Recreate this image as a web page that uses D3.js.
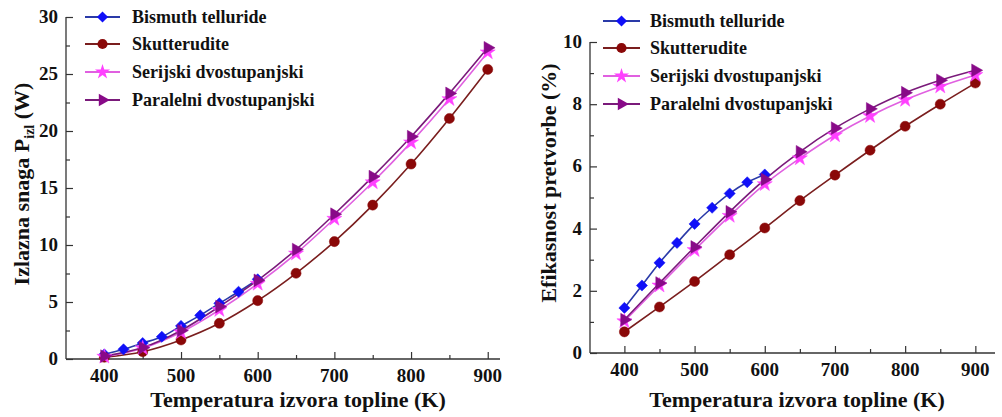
<!DOCTYPE html>
<html><head><meta charset="utf-8">
<script src="https://cdn.jsdelivr.net/npm/d3@7"></script>
<style>body{margin:0;background:#fff}svg{display:block}text{font-family:"Liberation Serif","Times New Roman",serif;font-weight:bold;fill:#111}</style>
</head><body><svg id="c" width="1002" height="417"></svg>
<script>
const seriesNames = ["Bismuth telluride","Skutterudite","Serijski dvostupanjski","Paralelni dvostupanjski"];
const xBi = [400,425,450,475,500,525,550,575,600];
const xFull = [400,450,500,550,600,650,700,750,800,850,900];
// Output power (W)
const powerBi = [0.4,0.85,1.4,1.95,2.9,3.83,4.88,5.9,6.99];
const powerSk = [0.15,0.64,1.67,3.13,5.12,7.52,10.3,13.5,17.1,21.1,25.4];
const powerSe = [0.2,0.95,2.35,4.3,6.6,9.25,12.3,15.5,19.0,22.8,26.9];
const powerPa = [0.25,1.0,2.5,4.6,6.9,9.6,12.7,16.0,19.5,23.3,27.3];
// Conversion efficiency (%)
const effBi = [1.45,2.17,2.9,3.54,4.15,4.67,5.13,5.49,5.74];
const effSk = [0.68,1.48,2.3,3.16,4.02,4.9,5.72,6.52,7.29,8.0,8.68];
const effSe = [1.02,2.17,3.31,4.41,5.43,6.26,7.0,7.62,8.14,8.57,8.94];
const effPa = [1.07,2.25,3.41,4.54,5.58,6.47,7.23,7.85,8.37,8.77,9.09];
const xTicks = [400,500,600,700,800,900];
const yTicksLeft = [0,5,10,15,20,25,30];
const yTicksRight = [0,2,4,6,8,10];
const xTitle = "Temperatura izvora topline (K)";

const styles = [
  {line:"#2a3aa8", fill:"#1010f8", sym:"diamond"},
  {line:"#7a1e1e", fill:"#8a0808", sym:"circle"},
  {line:"#e060e0", fill:"#ff40ff", sym:"star"},
  {line:"#7a1a7a", fill:"#880a88", sym:"tri"}
];
function symPath(s){
  if(s==="diamond") return d3.symbol(d3.symbolSquare,62)();
  if(s==="circle") return d3.symbol(d3.symbolCircle,80)();
  if(s==="star") return d3.symbol(d3.symbolStar,70)();
  return d3.symbol(d3.symbolTriangle,70)();
}
function symTransform(s,x,y){ return `translate(${x},${y})` + (s==="tri"?" rotate(90)":(s==="diamond"?" rotate(45)":"")); }

const svg = d3.select("#c");

function panel(cfg){
  const g = svg.append("g");
  const x = d3.scaleLinear().domain(cfg.xDomain).range(cfg.xRange);
  const y = d3.scaleLinear().domain(cfg.yDomain).range(cfg.yRange);
  g.append("line").attr("x1",cfg.xRange[0]).attr("x2",cfg.xRange[0]).attr("y1",cfg.yRange[0]).attr("y2",cfg.yRange[1]).attr("stroke","#333").attr("stroke-width",1.3);
  g.append("line").attr("x1",cfg.xRange[0]).attr("x2",cfg.xRange[1]).attr("y1",cfg.yRange[0]).attr("y2",cfg.yRange[0]).attr("stroke","#333").attr("stroke-width",1.3);
  const xa = d3.axisTop(x).tickValues(xTicks).tickSize(7).tickFormat("");
  g.append("g").attr("transform",`translate(0,${cfg.yRange[0]})`).call(xa).call(a=>a.select(".domain").remove()).selectAll("line").attr("stroke","#333").attr("stroke-width",1.2);
  const xm = d3.axisTop(x).tickValues(xTicks.map(v=>v+50).filter(v=>v<cfg.xDomain[1])).tickSize(4).tickFormat("");
  g.append("g").attr("transform",`translate(0,${cfg.yRange[0]})`).call(xm).call(a=>a.select(".domain").remove()).selectAll("line").attr("stroke","#333").attr("stroke-width",1.2);
  g.selectAll(".xl").data(xTicks).enter().append("text").attr("x",d=>x(d)).attr("y",cfg.yRange[0]+23).attr("text-anchor","middle").style("font-size","19px").text(d=>d);
  const ya = d3.axisRight(y).tickValues(cfg.yTicks).tickSize(7).tickFormat("");
  g.append("g").attr("transform",`translate(${cfg.xRange[0]},0)`).call(ya).call(a=>a.select(".domain").remove()).selectAll("line").attr("stroke","#333").attr("stroke-width",1.2);
  const minors = [];
  for(let i=0;i<cfg.yTicks.length-1;i++) minors.push((cfg.yTicks[i]+cfg.yTicks[i+1])/2);
  const ym = d3.axisRight(y).tickValues(minors).tickSize(4).tickFormat("");
  g.append("g").attr("transform",`translate(${cfg.xRange[0]},0)`).call(ym).call(a=>a.select(".domain").remove()).selectAll("line").attr("stroke","#333").attr("stroke-width",1.2);
  g.selectAll(".yl").data(cfg.yTicks).enter().append("text").attr("x",cfg.xRange[0]-8).attr("y",d=>y(d)+6).attr("text-anchor","end").style("font-size","19px").text(d=>d);
  g.append("text").attr("x",cfg.xTitleX).attr("y",407).attr("text-anchor","middle").style("font-size","22px").text(xTitle);
  const yt = g.append("text").attr("transform",`translate(${cfg.yTitleX},${cfg.yTitleY}) rotate(-90)`).attr("text-anchor","middle").style("font-size","22px");
  cfg.yTitle(yt);
  const line = d3.line().x(d=>x(d[0])).y(d=>y(d[1])).curve(d3.curveMonotoneX);
  cfg.series.forEach((s,i)=>{
    const pts = s.xs.map((v,j)=>[v,s.ys[j]]);
    g.append("path").attr("d",line(pts)).attr("fill","none").attr("stroke",styles[i].line).attr("stroke-width",1.6);
  });
  cfg.series.forEach((s,i)=>{
    const pts = s.xs.map((v,j)=>[v,s.ys[j]]);
    g.selectAll(null).data(pts).enter().append("path").attr("d",symPath(styles[i].sym))
      .attr("transform",d=>symTransform(styles[i].sym,x(d[0]),y(d[1]))).attr("fill",styles[i].fill).attr("stroke",styles[i].fill).attr("stroke-width",0.5);
  });
  seriesNames.forEach((n,i)=>{
    const ly = cfg.legY[i];
    g.append("line").attr("x1",cfg.legX[0]).attr("x2",cfg.legX[1]).attr("y1",ly).attr("y2",ly).attr("stroke",styles[i].line).attr("stroke-width",1.8);
    g.append("path").attr("d",symPath(styles[i].sym)).attr("transform",symTransform(styles[i].sym,(cfg.legX[0]+cfg.legX[1])/2,ly)).attr("fill",styles[i].fill);
    g.append("text").attr("x",cfg.legText).attr("y",ly+6).style("font-size","18px").text(n);
  });
}

panel({
  xDomain:[350,916], xRange:[66,500], yDomain:[0,30], yRange:[359,17], yTicks:yTicksLeft,
  xTitleX:298, yTitleX:29, yTitleY:184,
  yTitle:t=>{ t.append("tspan").text("Izlazna snaga P"); t.append("tspan").attr("dy",5).style("font-size","14px").text("izl"); t.append("tspan").attr("dy",-5).text(" (W)"); },
  series:[{xs:xBi,ys:powerBi},{xs:xFull,ys:powerSk},{xs:xFull,ys:powerSe},{xs:xFull,ys:powerPa}],
  legX:[85,120], legText:132, legY:[17,44,72,100]
});
panel({
  xDomain:[351,928], xRange:[590,995], yDomain:[0,10], yRange:[353,42], yTicks:yTicksRight,
  xTitleX:797, yTitleX:556, yTitleY:183,
  yTitle:t=>t.text("Efikasnost pretvorbe (%)"),
  series:[{xs:xBi,ys:effBi},{xs:xFull,ys:effSk},{xs:xFull,ys:effSe},{xs:xFull,ys:effPa}],
  legX:[603,640], legText:650, legY:[21,48,76,104]
});
</script></body></html>
